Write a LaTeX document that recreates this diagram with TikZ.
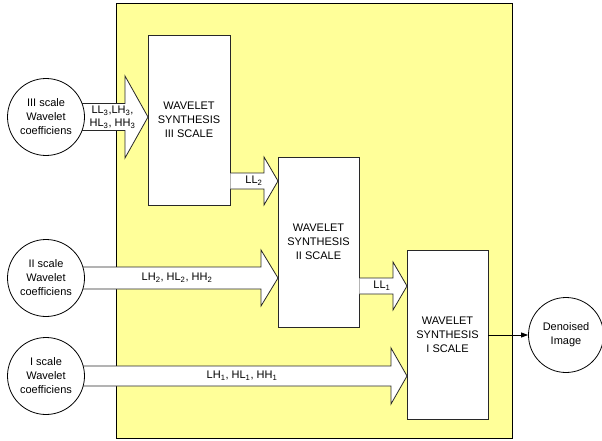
\documentclass[tikz,border=0pt]{standalone}
\usepackage{fontspec}
\setmainfont{Liberation Sans}
\usetikzlibrary{calc,arrows.meta}
\definecolor{bgyellow}{RGB}{255,255,153}
\definecolor{edge}{RGB}{40,40,40}
\tikzset{
  txt/.style={font=\fontsize{11}{14}\selectfont, align=center},
  coef/.style={txt, circle, draw=black, fill=white, line width=0.8pt, minimum size=77pt, inner sep=0pt},
  synth/.style={txt, rectangle, draw=edge, fill=white, line width=0.8pt, minimum width=82pt, minimum height=170pt, inner sep=0pt},
  barrow/.style={draw=edge, fill=white, line width=0.8pt, line join=miter},
  lbl/.style={font=\fontsize{11}{13}\selectfont, align=center, inner sep=0pt},
}
\newcommand{\blockarr}[5]{%
  \filldraw[barrow] let \p1=(#1), \p2=(#2) in
    (\x1,\y2+#4 pt) -- (\x2-#3 pt,\y2+#4 pt) -- (\x2-#3 pt,\y2+#5 pt) -- (\x2,\y2)
    -- (\x2-#3 pt,\y2-#5 pt) -- (\x2-#3 pt,\y2-#4 pt) -- (\x1,\y2-#4 pt);
}
\begin{document}
\begin{tikzpicture}[x=1pt,y=-1pt]
\useasboundingbox (0,0) rectangle (602,441);
\fill[white] (0,0) rectangle (602,441);
\draw[fill=bgyellow, draw=black, line width=0.8pt] (116.5,3.5) rectangle (512,438.5);

% boxes
\node[synth] (b3) at (189,120) {WAVELET\\SYNTHESIS\\III SCALE};
\node[synth, minimum width=81pt] (b2) at (318.5,242) {WAVELET\\SYNTHESIS\\II SCALE};
\node[synth, minimum width=81pt, minimum height=169pt] (b1) at (447.5,334.5) {WAVELET\\SYNTHESIS\\I SCALE};

% circle centres
\coordinate (c3c) at (46,117);
\coordinate (c2c) at (46,278);
\coordinate (c1c) at (46,376);

% block arrows
\coordinate (t3) at (148,117);
\coordinate (t2) at (278,278);
\coordinate (t1) at (407,376);
\coordinate (tl2) at (278,181);
\coordinate (tl1) at (407,286);
\blockarr{c3c}{t3}{23}{13.5}{41}
\blockarr{c2c}{t2}{17}{11}{28}
\blockarr{c1c}{t1}{16}{10}{28}
\blockarr{b3.east}{tl2}{14}{8}{24}
\blockarr{b2.east}{tl1}{14}{8}{24}

% circles
\node[coef] (c3) at (c3c) {III scale\\Wavelet\\coefficiens};
\node[coef] (c2) at (c2c) {II scale\\Wavelet\\coefficiens};
\node[coef] (c1) at (c1c) {I scale\\Wavelet\\coefficiens};
\node[coef, minimum size=75pt] (out) at (566,335) {Denoised\\Image};

% labels
\node[lbl] (l3) at (112.5,117) {LL\textsubscript{3},LH\textsubscript{3},\\HL\textsubscript{3}, HH\textsubscript{3}};
\node[lbl] (l2) at (177,278) {LH\textsubscript{2}, HL\textsubscript{2}, HH\textsubscript{2}};
\node[lbl] (l1) at (242,376) {LH\textsubscript{1}, HL\textsubscript{1}, HH\textsubscript{1}};
\node[lbl] (ll2) at (254,181) {LL\textsubscript{2}};
\node[lbl] (ll1) at (382,286) {LL\textsubscript{1}};

% output
\draw[line width=0.8pt, -{Triangle[length=7pt,width=5pt]}] (b1.east |- out) -- (out.west);
\end{tikzpicture}
\end{document}
